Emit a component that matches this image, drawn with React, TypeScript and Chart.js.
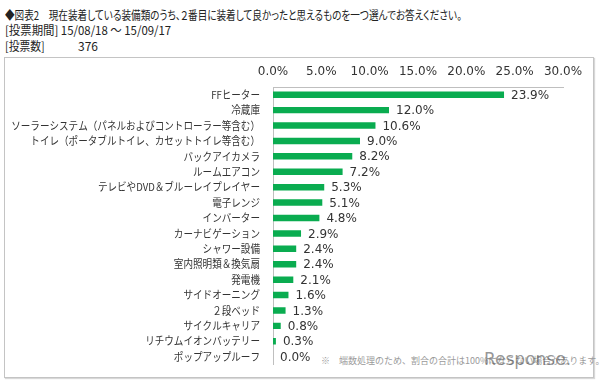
import React, { useEffect, useRef } from "react";
import { Chart, registerables } from "chart.js";

Chart.register(...registerables);

const TITLE = "◆図表2　現在装着している装備類のうち、２番目に装着して良かったと思えるものを一つ選んでお答えください。";
const PERIOD = "[投票期間] 15/08/18 ～ 15/09/17";
const VOTES_LABEL = "[投票数]";
const VOTES = "376";
const NOTE = "※　端数処理のため、割合の合計は100%にならない場合があります。";

const categories = [
  "FFヒーター",
  "冷蔵庫",
  "ソーラーシステム（パネルおよびコントローラー等含む）",
  "トイレ（ポータブルトイレ、カセットトイレ等含む）",
  "バックアイカメラ",
  "ルームエアコン",
  "テレビやDVD＆ブルーレイプレイヤー",
  "電子レンジ",
  "インバーター",
  "カーナビゲーション",
  "シャワー設備",
  "室内照明類＆換気扇",
  "発電機",
  "サイドオーニング",
  "２段ベッド",
  "サイクルキャリア",
  "リチウムイオンバッテリー",
  "ポップアップルーフ",
];

const values = [23.9, 12.0, 10.6, 9.0, 8.2, 7.2, 5.3, 5.1, 4.8, 2.9, 2.4, 2.4, 2.1, 1.6, 1.3, 0.8, 0.3, 0.0];

const xTicks = [0, 5, 10, 15, 20, 25, 30];

const JP = '"Noto Sans CJK JP", "Noto Sans", sans-serif';
const LAT = '"DejaVu Sans", "Noto Sans CJK JP", sans-serif';
const TEXT = "#333333";
const AXIS = "#bfbfbf";
const GREEN = "#0aac50";

const dataLabelPlugin = {
  id: "dataLabels",
  afterDatasetsDraw(chart: any) {
    const ctx = chart.ctx;
    const meta = chart.getDatasetMeta(0);
    ctx.save();
    ctx.font = `12px ${LAT}`;
    ctx.fillStyle = TEXT;
    ctx.textAlign = "left";
    ctx.textBaseline = "middle";
    meta.data.forEach((bar: any, i: number) => {
      const v = chart.data.datasets[0].data[i] as number;
      ctx.fillText(v.toFixed(1) + "%", bar.x + 7, bar.y + 1);
    });
    ctx.restore();
  },
};

// narrow the category labels horizontally (the original uses a condensed UI font)
const yLabelNarrowPlugin = {
  id: "yLabelNarrow",
  afterLayout(chart: any) {
    const y = chart.scales.y;
    if (!y || y.__patched) return;
    const orig = y.drawLabels;
    y._computeLabelArea = function () {
      return undefined;
    };
    y.drawLabels = function (area: any) {
      const ctx = this.ctx;
      const edge = this.right - 13;
      ctx.save();
      ctx.translate(edge, 0);
      ctx.scale(0.87, 1);
      ctx.translate(-edge, 0);
      orig.call(this, area);
      ctx.restore();
    };
    y.__patched = true;
  },
};

export default function App() {
  const canvasRef = useRef<HTMLCanvasElement | null>(null);

  useEffect(() => {
    const canvas = canvasRef.current;
    if (!canvas) return;
    const chart = new Chart(canvas, {
      type: "bar",
      data: {
        labels: categories,
        datasets: [
          {
            data: values,
            backgroundColor: GREEN,
            borderWidth: 0,
            categoryPercentage: 1,
            barPercentage: 0.42,
          },
        ],
      },
      options: {
        indexAxis: "y",
        animation: false,
        responsive: false,
        maintainAspectRatio: false,
        devicePixelRatio: 1,
        layout: { padding: { top: 55, right: 37, bottom: 18, left: 0 } },
        plugins: {
          legend: { display: false },
          tooltip: { enabled: false },
          title: { display: false },
        },
        scales: {
          x: {
            position: "top",
            min: 0,
            max: 30,
            afterBuildTicks(scale: any) {
              scale.ticks = xTicks.map((v) => ({ value: v }));
            },
            afterFit(scale: any) {
              scale.height = 32;
            },
            grid: { display: false, drawTicks: false },
            border: { display: true, color: AXIS, width: 1 },
            ticks: {
              padding: 8,
              color: TEXT,
              font: { family: LAT, size: 12 },
              maxRotation: 0,
              callback: (v: any) => Number(v).toFixed(1) + "%",
            },
          },
          y: {
            afterFit(scale: any) {
              scale.width = 273;
            },
            grid: { display: false, drawTicks: false },
            border: { display: true, color: AXIS, width: 1 },
            ticks: {
              padding: 13,
              color: TEXT,
              autoSkip: false,
              font: { family: JP, size: 11 },
            },
          },
        },
      },
      plugins: [dataLabelPlugin, yLabelNarrowPlugin],
    });
    return () => chart.destroy();
  }, []);

  const headerLine: React.CSSProperties = {
    position: "absolute",
    left: 5,
    fontFamily: JP,
    fontSize: 12,
    color: "#222",
    whiteSpace: "nowrap",
    lineHeight: "15px",
    transformOrigin: "0 0",
  };

  return (
    <div
      style={{
        position: "absolute",
        left: 0,
        top: 0,
        width: 600,
        height: 384,
        background: "#ffffff",
        overflow: "hidden",
      }}
    >
      <div
        style={{
          ...headerLine,
          top: 7,
          transform: "scaleX(0.8)",
          fontFeatureSettings: '"palt"',
        }}
      >
        {TITLE}
      </div>
      <div style={{ ...headerLine, top: 22, transform: "scaleX(0.95)" }}>{PERIOD}</div>
      <div style={{ ...headerLine, top: 38, transform: "scaleX(0.9)" }}>{VOTES_LABEL}</div>
      <div style={{ ...headerLine, top: 38, left: 78 }}>{VOTES}</div>
      <div
        style={{
          position: "absolute",
          left: 4,
          top: 57,
          width: 588,
          height: 319,
          border: "1px solid #c4c4c4",
          boxShadow: "1px 1px 1px #d8d8d8",
        }}
      />
      <div
        style={{
          position: "absolute",
          left: 321,
          top: 354,
          fontFamily: JP,
          fontSize: 9,
          color: "#9a9a9a",
          whiteSpace: "nowrap",
        }}
      >
        {NOTE}
      </div>
      <div
        style={{
          position: "absolute",
          left: 484,
          top: 349,
          fontFamily: '"DejaVu Sans", sans-serif',
          fontSize: 17,
          color: "rgba(80,80,80,0.6)",
          whiteSpace: "nowrap",
        }}
      >
        Response.
      </div>
      <canvas
        ref={canvasRef}
        width={600}
        height={384}
        style={{ position: "absolute", left: 0, top: 0, width: 600, height: 384 }}
      />
    </div>
  );
}
